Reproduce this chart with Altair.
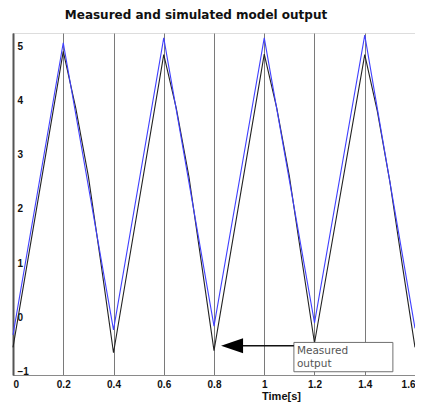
import altair as alt
import pandas as pd

# ---- data ----
time_sim = [0.0, 0.2, 0.4, 0.6, 0.8, 1.0, 1.2, 1.4, 1.6]
simulated = [-0.32, 5.06, -0.23, 5.15, -0.16, 5.15, -0.10, 5.20, -0.20]

time_meas = [0.0, 0.2, 0.25, 0.3, 0.35, 0.4,
             0.6, 0.65, 0.7, 0.75, 0.8,
             1.0, 1.05, 1.1, 1.15, 1.2,
             1.4, 1.45, 1.5, 1.55, 1.6]
measured = [-0.55, 4.90, 3.85, 2.60, 1.00, -0.65,
            4.84, 3.85, 2.60, 1.00, -0.61,
            4.85, 3.85, 2.60, 1.05, -0.47,
            4.84, 3.80, 2.50, 0.95, -0.55]

x_ticks = [0, 0.2, 0.4, 0.6, 0.8, 1.0, 1.2, 1.4, 1.6]
y_ticks = [-1, 0, 1, 2, 3, 4, 5]

annot_lines = ["Measured", "output"]

# annotation geometry (data units)
arrow_start, arrow_end, arrow_y = 1.118, 0.90, -0.52
head_t = 0.872
box_t, box_t2, box_v, box_v2 = 1.118, 1.512, -0.46, -1.0
text_t = 1.13
text_v = [-0.62, -0.86]

df = pd.concat([
    pd.DataFrame({"t": time_meas, "v": measured, "series": "Measured"}),
    pd.DataFrame({"t": time_sim, "v": simulated, "series": "Simulated"}),
])

xs = alt.Scale(domain=[0, 1.6], nice=False, zero=False)
ys = alt.Scale(domain=[-1.06, 5.24], nice=False, zero=False)

x_enc = alt.X("t:Q", scale=xs, axis=alt.Axis(
    values=x_ticks, format="~g", grid=True, gridColor="#7a7a7a", gridOpacity=1,
    ticks=False, labelPadding=4, labelFont="Liberation Sans", labelFontSize=10,
    labelFontWeight="bold", labelColor="#111", labelFlush=True,
    domainColor="#8a8a8a", title="Time[s]", titleFont="Liberation Sans",
    titleFontSize=11, titleFontWeight="bold", titleX=268, titleY=15,
    titleBaseline="top", titleAlign="center", titleColor="#111"))
y_enc = alt.Y("v:Q", scale=ys, axis=alt.Axis(
    values=y_ticks, format="d", grid=False, ticks=False, labelAlign="left",
    labelPadding=-4, labelBaseline="middle", labelFont="Liberation Sans",
    labelFontSize=10, labelFontWeight="bold", labelColor="#111",
    domainColor="#555", domainWidth=2, title=None))

lines = alt.Chart(df).mark_line(strokeWidth=1.1).encode(
    x=x_enc, y=y_enc,
    color=alt.Color("series:N", scale=alt.Scale(domain=["Measured", "Simulated"],
                                               range=["#222222", "#4040ff"]), legend=None),
    order=alt.Order("t:Q"),
    detail="series:N",
)

box = alt.Chart(pd.DataFrame({"t": [box_t], "t2": [box_t2], "v": [box_v], "v2": [box_v2]})).mark_rect(
    fill="white", stroke="#707070", strokeWidth=1).encode(
    x=alt.X("t:Q", scale=xs), x2="t2:Q", y=alt.Y("v:Q", scale=ys), y2="v2:Q")

arrow = alt.Chart(pd.DataFrame({"t": [arrow_start], "t2": [arrow_end], "v": [arrow_y]})).mark_rule(
    color="#111", strokeWidth=1.5).encode(
    x=alt.X("t:Q", scale=xs), x2="t2:Q", y=alt.Y("v:Q", scale=ys))

head = alt.Chart(pd.DataFrame({"t": [head_t], "v": [arrow_y]})).mark_point(
    shape="M-1,0L1,-0.68L1,0.68Z", filled=True, color="#000", size=484, opacity=1).encode(
    x=alt.X("t:Q", scale=xs), y=alt.Y("v:Q", scale=ys))

label = alt.Chart(pd.DataFrame({"t": [text_t, text_t], "v": text_v, "txt": annot_lines})).mark_text(
    align="left", baseline="middle", font="DejaVu Sans", fontSize=10.5, color="#555").encode(
    x=alt.X("t:Q", scale=xs), y=alt.Y("v:Q", scale=ys), text="txt:N")

chart = alt.layer(lines, box, arrow, head, label).properties(
    width=402, height=342,
    title=alt.TitleParams("Measured and simulated model output", font="DejaVu Sans",
                          fontSize=12, fontWeight="bold", color="#111",
                          anchor="middle", dx=-18, offset=11),
    autosize=alt.AutoSizeParams(type="none"),
    padding={"left": 5, "top": 25, "right": 0, "bottom": 27},
).configure_view(stroke="#8a8a8a", strokeWidth=1).configure(background="white")

chart.save("out.html", embed_options={"renderer": "svg", "actions": False})
